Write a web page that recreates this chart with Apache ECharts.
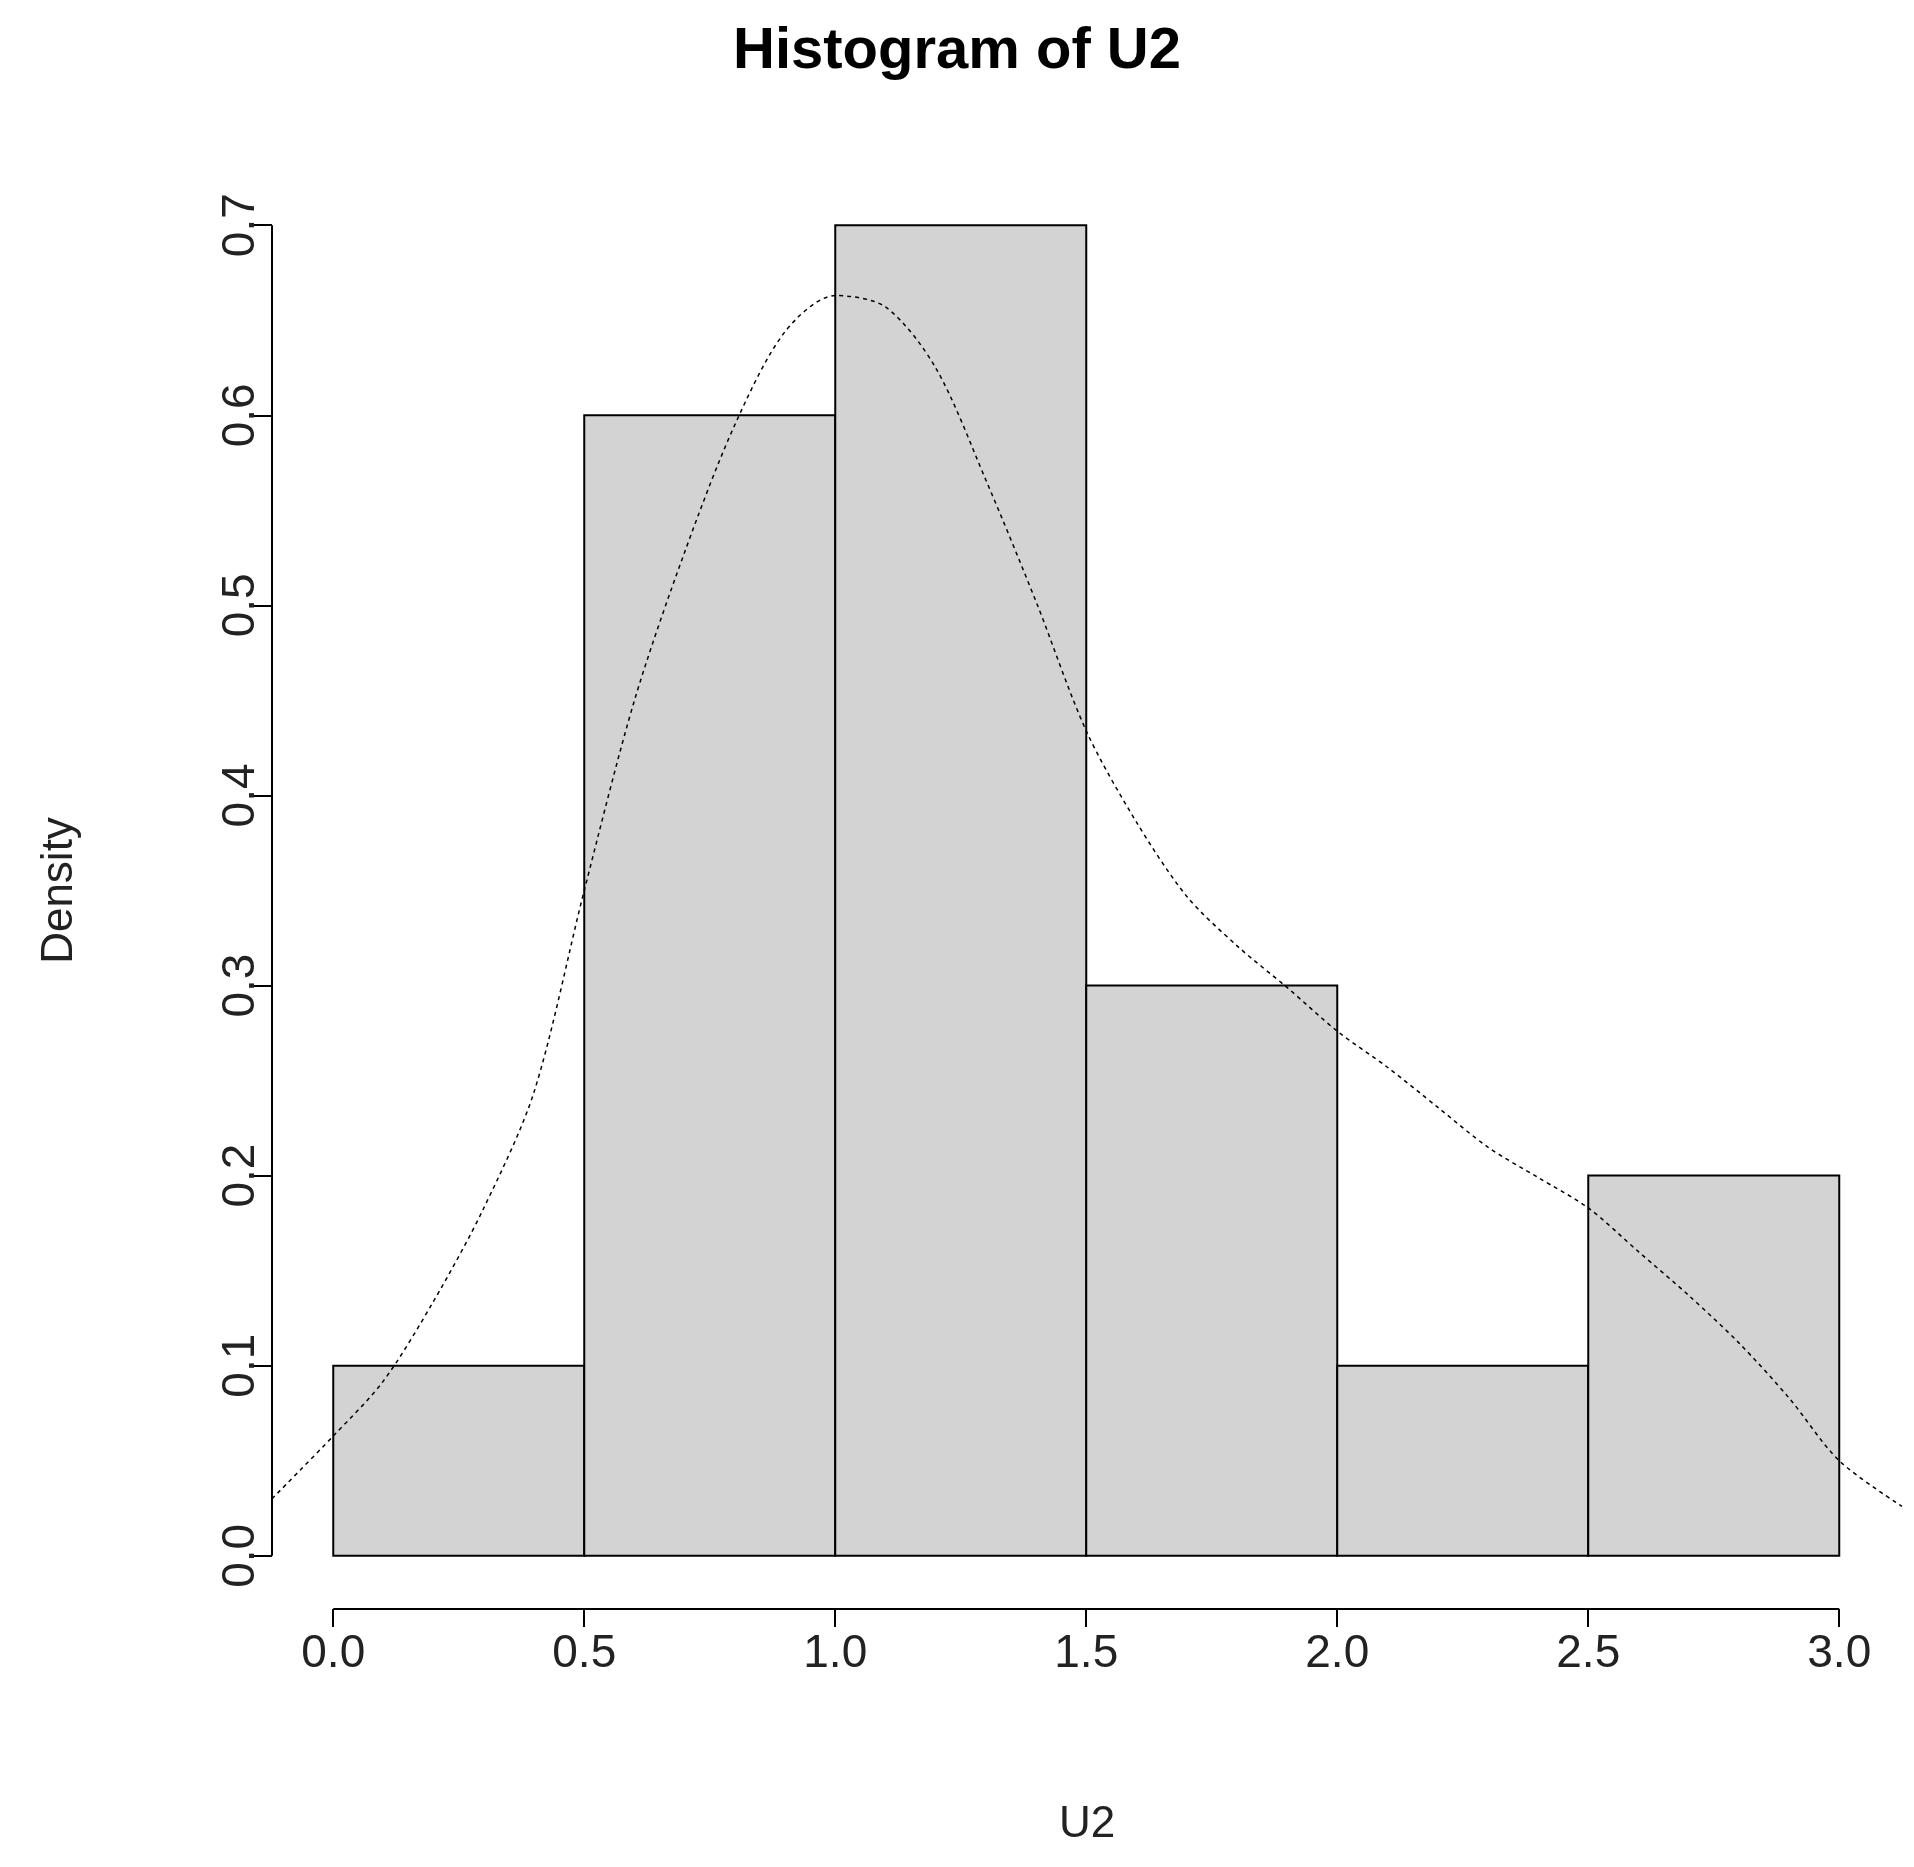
<!DOCTYPE html>
<html><head><meta charset="utf-8">
<script src="https://cdn.jsdelivr.net/npm/echarts@6/dist/echarts.min.js"></script>
<style>html,body{margin:0;padding:0;background:#fff}#c{width:1914px;height:1867px}</style>
</head><body><div id="c"></div>
<script>
const binStarts = [0, 0.5, 1.0, 1.5, 2.0, 2.5];
const binWidth = 0.5;
const densities = [0.1, 0.6, 0.7, 0.3, 0.1, 0.2];
const curveX = [-0.122,0,0.1,0.2,0.3,0.4,0.5,0.6,0.7,0.8,0.9,1.0,1.1,1.2,1.3,1.4,1.5,1.6,1.7,1.8,1.9,2.0,2.1,2.2,2.3,2.4,2.5,2.6,2.7,2.8,2.9,3.0,3.125];
const curveY = [0.030,0.063,0.092,0.134,0.183,0.244,0.350,0.450,0.528,0.595,0.644,0.663,0.657,0.625,0.566,0.502,0.434,0.386,0.347,0.321,0.299,0.276,0.257,0.236,0.215,0.199,0.183,0.160,0.137,0.112,0.083,0.050,0.026];
const xTicks = [0,0.5,1.0,1.5,2.0,2.5,3.0];
const yTicks = [0,0.1,0.2,0.3,0.4,0.5,0.6,0.7];
const xMin=-0.122, xMax=3.125, yMin=-0.028, yMax=0.728;
const font='"Liberation Sans", Arial, sans-serif';
const chart = echarts.init(document.getElementById('c'));
chart.setOption({
  animation:false,
  title:{text:'Histogram of U2',left:'center',top:18,textStyle:{fontFamily:font,fontWeight:'bold',fontSize:58,color:'#000'}},
  grid:{left:272,right:12,top:172,bottom:258},
  xAxis:{type:'value',min:xMin,max:xMax,name:'U2',nameLocation:'middle',nameGap:194,
    nameTextStyle:{fontFamily:font,fontSize:44,color:'#222'},
    axisLine:{show:false,onZero:false},splitLine:{show:false},
    axisTick:{show:true,length:18,lineStyle:{color:'#000',width:2},customValues:xTicks},
    axisLabel:{customValues:xTicks,fontFamily:font,fontSize:46,color:'#222',margin:22,formatter:v=>v.toFixed(1)}},
  yAxis:{type:'value',min:yMin,max:yMax,name:'Density',nameLocation:'middle',nameGap:190,
    nameTextStyle:{fontFamily:font,fontSize:44,color:'#222'},
    axisLine:{show:false,onZero:false},splitLine:{show:false},
    axisTick:{show:true,length:18,lineStyle:{color:'#000',width:2},customValues:yTicks},
    axisLabel:{customValues:yTicks,fontFamily:font,fontSize:46,color:'#222',margin:8,rotate:90,formatter:v=>v.toFixed(1)}},
  series:[
    {type:'custom',data:binStarts.map((s,i)=>[s,s+binWidth,densities[i]]),
     renderItem:(p,api)=>{const a=api.coord([api.value(0),0]);const b=api.coord([api.value(1),api.value(2)]);
       return {type:'rect',shape:{x:a[0],y:b[1],width:b[0]-a[0],height:a[1]-b[1]},style:{fill:'#D3D3D3',stroke:'#000',lineWidth:2}};}},
    {type:'line',data:curveX.map((x,i)=>[x,curveY[i]]),smooth:0.3,showSymbol:false,lineStyle:{color:'#000',width:1.5,type:[4,4]}},
    {type:'line',data:[[xTicks[0],yMin],[xTicks[xTicks.length-1],yMin]],showSymbol:false,lineStyle:{color:'#000',width:2}},
    {type:'line',data:[[xMin,yTicks[0]],[xMin,yTicks[yTicks.length-1]]],showSymbol:false,lineStyle:{color:'#000',width:2}}
  ]
});
</script></body></html>
